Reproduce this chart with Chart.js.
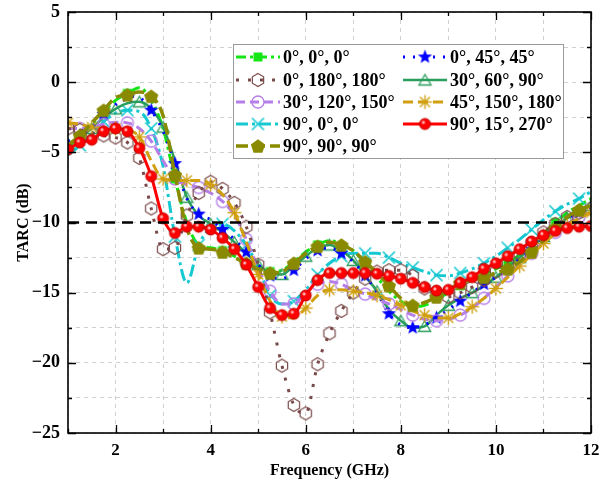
<!DOCTYPE html>
<html><head><meta charset="utf-8">
<script src="https://cdn.jsdelivr.net/npm/chart.js@4/dist/chart.umd.min.js"></script>
<style>html,body{margin:0;padding:0;background:#fff;}canvas{display:block;}</style>
</head><body>
<canvas id="c" width="600" height="484"></canvas>
<script>
// ---------- data ----------
const freq = [1,1.25,1.5,1.75,2,2.25,2.5,2.75,3,3.25,3.5,3.75,4,4.25,4.5,4.75,5,5.25,5.5,5.75,6,6.25,6.5,6.75,7,7.25,7.5,7.75,8,8.25,8.5,8.75,9,9.25,9.5,9.75,10,10.25,10.5,10.75,11,11.25,11.5,11.75,12];
const s_0_0_0     = [-4.6,-3.9,-3.0,-2.1,-1.3,-0.8,-0.4,-1.3,-3.3,-6.9,-10.0,-11.6,-11.8,-12.0,-12.4,-12.8,-13.2,-13.5,-13.4,-12.8,-12.1,-11.6,-11.3,-11.5,-12.0,-12.9,-13.9,-14.9,-15.6,-16.0,-15.9,-15.5,-15.0,-14.5,-14.1,-13.7,-13.3,-12.9,-12.3,-11.6,-10.8,-10.0,-9.3,-8.8,-8.3];
const s_0_45_45   = [-4.2,-3.8,-3.2,-2.3,-1.6,-1.0,-1.1,-2.0,-3.5,-5.8,-8.3,-9.4,-9.8,-10.5,-11.2,-12.1,-13.0,-13.8,-14.0,-13.4,-12.6,-12.0,-11.8,-12.2,-12.8,-13.8,-15.0,-16.5,-17.3,-17.5,-17.3,-16.8,-16.2,-15.6,-15.0,-14.4,-13.9,-13.3,-12.6,-11.9,-11.1,-10.4,-9.8,-9.3,-8.9];
const s_0_180_180 = [-3.3,-3.4,-3.6,-3.8,-3.95,-4.3,-5.4,-9.0,-11.9,-11.8,-9.5,-7.9,-7.1,-7.6,-8.6,-10.3,-13.0,-16.4,-20.2,-23.0,-23.6,-20.1,-17.9,-16.3,-15.0,-14.0,-13.5,-13.4,-13.4,-13.8,-14.7,-15.1,-15.3,-15.0,-14.6,-14.1,-13.5,-12.9,-12.2,-11.5,-10.7,-10.1,-9.6,-9.3,-9.0];
const s_30_60_90  = [-4.4,-3.9,-3.3,-2.5,-1.9,-1.5,-1.4,-1.9,-3.2,-5.6,-8.2,-9.5,-10.1,-10.7,-11.4,-12.2,-13.0,-13.6,-13.7,-13.1,-12.4,-11.8,-11.6,-12.0,-12.7,-13.8,-14.9,-16.2,-17.0,-17.5,-17.4,-16.6,-15.9,-15.4,-15.0,-14.5,-13.9,-13.2,-12.5,-11.8,-11.0,-10.3,-9.7,-9.2,-8.8];
const s_30_120_150= [-3.3,-3.3,-3.2,-3.0,-2.85,-2.9,-3.3,-4.2,-5.6,-6.9,-7.3,-7.5,-7.9,-8.5,-9.5,-11.2,-13.3,-14.9,-15.8,-15.8,-15.0,-14.4,-14.2,-14.4,-14.8,-15.1,-15.5,-15.8,-16.2,-16.6,-16.9,-17.0,-16.9,-16.6,-16.1,-15.4,-14.6,-13.8,-13.0,-12.2,-11.4,-10.7,-10.1,-9.6,-9.2];
const s_45_150_180= [-2.9,-3.0,-3.2,-3.3,-3.3,-3.4,-3.9,-5.6,-6.9,-7.0,-7.0,-7.0,-7.3,-8.0,-9.3,-11.4,-13.7,-15.6,-16.7,-16.8,-16.1,-15.2,-14.8,-14.8,-14.9,-15.0,-15.2,-15.5,-15.9,-16.3,-16.6,-16.8,-16.8,-16.5,-16.0,-15.4,-14.7,-13.9,-13.1,-12.3,-11.5,-10.8,-10.2,-9.7,-9.3];
const s_90_0_0    = [-5.2,-4.5,-3.7,-2.8,-2.2,-2.0,-2.1,-3.3,-6.0,-11.0,-14.3,-11.6,-10.4,-10.1,-10.6,-11.6,-13.2,-15.2,-15.8,-15.6,-14.8,-13.7,-12.9,-12.4,-12.2,-12.2,-12.2,-12.5,-12.9,-13.2,-13.5,-13.75,-13.8,-13.6,-13.3,-12.9,-12.4,-11.8,-11.2,-10.5,-9.8,-9.2,-8.7,-8.3,-7.8];
const s_90_15_270 = [-4.8,-4.3,-4.1,-3.5,-3.3,-3.5,-4.7,-6.7,-9.7,-10.75,-10.3,-10.3,-10.5,-11.1,-11.9,-13.0,-14.6,-16.1,-16.6,-16.5,-15.2,-14.1,-13.6,-13.6,-13.6,-13.6,-13.65,-13.8,-14.0,-14.3,-14.6,-14.85,-14.8,-14.3,-13.9,-13.3,-12.9,-12.4,-11.9,-11.35,-10.9,-10.6,-10.4,-10.3,-10.25];
const s_90_90_90  = [-4.5,-3.8,-2.9,-2.0,-1.1,-0.9,-0.7,-1.0,-2.4,-6.6,-10.4,-11.8,-11.9,-12.1,-12.5,-12.9,-13.3,-13.6,-13.5,-12.9,-12.2,-11.7,-11.4,-11.6,-12.0,-12.8,-13.6,-14.5,-15.4,-15.9,-15.7,-15.3,-14.8,-14.3,-14.1,-13.9,-13.6,-13.3,-12.8,-12.1,-11.3,-10.4,-9.6,-9.1,-8.8];
const seriesLabels = ['0°, 0°, 0°','0°, 45°, 45°','0°, 180°, 180°','30°, 60°, 90°','30°, 120°, 150°','45°, 150°, 180°','90°, 0°, 0°','90°, 15°, 270°','90°, 90°, 90°'];
const xTickLabels = [2,4,6,8,10,12];
const yTickLabels = [5,0,-5,-10,-15,-20,-25];
const refLevel = -10;

// ---------- markers ----------
function mk(r, draw){ const s=Math.ceil(r*2+4); const c=document.createElement('canvas'); c.width=s; c.height=s; const g=c.getContext('2d'); g.translate(s/2,s/2); draw(g); return c; }
function poly(g,n,r,rot){ g.beginPath(); for(let i=0;i<n;i++){ const a=rot+i*2*Math.PI/n; const px=r*Math.cos(a), py=r*Math.sin(a); if(i) g.lineTo(px,py); else g.moveTo(px,py);} g.closePath(); }
const COL = {green:'#14e614', blue:'#0000ff', brown:'#7a4a4a', teal:'#2a9d5c', purple:'#b57ee8', gold:'#d0a010', cyan:'#16c8d0', red:'#ff0000', olive:'#8a8a00'};
const mSquare = mk(5, g=>{ g.fillStyle=COL.green; g.fillRect(-4.5,-4.5,9,9); });
const mStar = mk(7.5, g=>{ g.beginPath(); for(let i=0;i<10;i++){ const r=i%2?3.2:7.5; const a=-Math.PI/2+i*Math.PI/5; const px=r*Math.cos(a), py=r*Math.sin(a); if(i) g.lineTo(px,py); else g.moveTo(px,py);} g.closePath(); g.fillStyle=COL.blue; g.fill(); });
const mHex = mk(7, g=>{ poly(g,6,6.5,-Math.PI/2); g.strokeStyle=COL.brown; g.lineWidth=1.2; g.stroke(); });
const mTri = mk(7.5, g=>{ g.translate(0,1.5); poly(g,3,7,-Math.PI/2); g.strokeStyle=COL.teal; g.lineWidth=1.3; g.stroke(); });
const mCirc = mk(7, g=>{ g.beginPath(); g.arc(0,0,6,0,Math.PI*2); g.strokeStyle=COL.purple; g.lineWidth=1.3; g.stroke(); });
const mAst = mk(7.5, g=>{ g.strokeStyle=COL.gold; g.lineWidth=1.4; for(let k=0;k<4;k++){ const a=k*Math.PI/4; g.beginPath(); g.moveTo(-7*Math.cos(a),-7*Math.sin(a)); g.lineTo(7*Math.cos(a),7*Math.sin(a)); g.stroke(); } });
const mX = mk(7.5, g=>{ g.strokeStyle=COL.cyan; g.lineWidth=1.6; g.beginPath(); g.moveTo(-6,-6); g.lineTo(6,6); g.moveTo(6,-6); g.lineTo(-6,6); g.stroke(); });
const mRed = mk(6.5, g=>{ g.beginPath(); g.arc(0,0,5.5,0,Math.PI*2); g.fillStyle=COL.red; g.fill(); g.strokeStyle='#c00000'; g.lineWidth=1; g.stroke(); g.beginPath(); g.arc(-1.6,-1.6,1.6,0,Math.PI*2); g.fillStyle='rgba(255,220,220,0.8)'; g.fill(); });
const mPent = mk(8, g=>{ g.translate(0,0.8); poly(g,5,7.5,-Math.PI/2); g.fillStyle=COL.olive; g.fill(); });

function ds(label, vals, color, dash, width, marker, every, offset, order){
  return { label, data: freq.map((f,i)=>({x:f, y:vals[i]})), borderColor:color, backgroundColor:color,
    borderDash:dash, borderWidth:width, pointStyle:marker,
    pointRadius: c => (c.dataIndex % every === offset ? 5 : 0), pointHoverRadius:0,
    cubicInterpolationMode:'monotone', fill:false, order, _marker:marker };
}
const datasets = [
  ds(seriesLabels[0], s_0_0_0, COL.green, [10,4,3,4], 3, mSquare, 4, 1, 8),
  ds(seriesLabels[1], s_0_45_45, COL.blue, [2,8], 3, mStar, 2, 1, 5),
  ds(seriesLabels[2], s_0_180_180, COL.brown, [3,9], 3, mHex, 1, 0, 3),
  ds(seriesLabels[3], s_30_60_90, COL.teal, [], 2.5, mTri, 2, 0, 6),
  ds(seriesLabels[4], s_30_120_150, COL.purple, [9,5], 3, mCirc, 2, 1, 4),
  ds(seriesLabels[5], s_45_150_180, COL.gold, [10,5], 3, mAst, 2, 0, 2),
  ds(seriesLabels[6], s_90_0_0, COL.cyan, [12,4,3,4], 3, mX, 2, 1, 7),
  ds(seriesLabels[7], s_90_15_270, COL.red, [], 3, mRed, 1, 0, 0),
  ds(seriesLabels[8], s_90_90_90, COL.olive, [12,5], 3.5, mPent, 2, 1, 1)
];
datasets.push({ label:'ref', data:[{x:freq[0],y:refLevel},{x:freq[freq.length-1],y:refLevel}], borderColor:'#000', borderDash:[11,7], borderWidth:2.5, pointRadius:0, order:-1, fill:false });

const FONT = '"Liberation Serif", "Times New Roman", serif';

const deco = {
  id:'deco',
  afterDraw(chart){
    const ctx=chart.ctx, a=chart.chartArea, xs=chart.scales.x, ys=chart.scales.y;
    ctx.save();
    ctx.strokeStyle='#000'; ctx.lineWidth=1.3;
    for(let v=1; v<=12; v++){
      const px=Math.round(xs.getPixelForValue(v))+0.5; const L = xTickLabels.includes(v)?8:4;
      ctx.beginPath(); ctx.moveTo(px,a.bottom); ctx.lineTo(px,a.bottom-L); ctx.moveTo(px,a.top); ctx.lineTo(px,a.top+L); ctx.stroke();
    }
    for(let v=-25; v<=5; v+=2.5){
      const py=Math.round(ys.getPixelForValue(v))+0.5; const L = yTickLabels.includes(v)?8:4;
      ctx.beginPath(); ctx.moveTo(a.left,py); ctx.lineTo(a.left+L,py); ctx.moveTo(a.right,py); ctx.lineTo(a.right-L,py); ctx.stroke();
    }
    ctx.lineWidth=1.6;
    ctx.strokeRect(a.left, a.top, a.right-a.left, a.bottom-a.top);
    // legend
    const bx=233, by=44, bw=330, bh=114;
    ctx.fillStyle='#fff'; ctx.fillRect(bx,by,bw,bh);
    ctx.strokeStyle='#9a9a9a'; ctx.lineWidth=1; ctx.strokeRect(bx+0.5,by+0.5,bw,bh);
    const rowY=[57,80,102,124,146];
    const colX=[236,403];
    ctx.font='bold 18px '+FONT; ctx.textBaseline='middle'; ctx.textAlign='left';
    for(let i=0;i<9;i++){
      const d=chart.data.datasets[i]; const r=Math.floor(i/2), c=i%2;
      const x0=colX[c], y=rowY[r];
      ctx.save(); ctx.strokeStyle=d.borderColor; ctx.lineWidth=d.borderWidth; ctx.setLineDash(d.borderDash||[]);
      ctx.beginPath(); ctx.moveTo(x0,y); ctx.lineTo(x0+44,y); ctx.stroke(); ctx.restore();
      const m=d._marker; ctx.drawImage(m, x0+22-m.width/2, y-m.height/2);
      ctx.fillStyle='#000'; ctx.fillText(d.label, x0+47, y+1);
    }
    ctx.restore();
  }
};

new Chart(document.getElementById('c'), {
  type:'line',
  data:{ datasets },
  options:{
    responsive:false, animation:false, devicePixelRatio:1,
    layout:{ padding:{ top:12, right:9, left:0, bottom:0 } },
    plugins:{ legend:{display:false}, tooltip:{enabled:false} },
    scales:{
      x:{ type:'linear', min:1, max:12,
        afterFit(s){ s.height=51; s.paddingLeft=0; s.paddingRight=0; },
        ticks:{ stepSize:1, autoSkip:false, maxRotation:0, padding:7, color:'#000', font:{family:FONT, size:17, weight:'bold'},
          callback:v=> xTickLabels.includes(v) ? String(v) : '' },
        grid:{ color:'#d0d0d0', lineWidth:1, drawTicks:false, borderDash:[4,4] },
        border:{ display:false, dash:[4,4] },
        title:{ display:true, text:'Frequency (GHz)', color:'#000', font:{family:FONT, size:16, weight:'bold'}, padding:{top:0,bottom:4} } },
      y:{ type:'linear', min:-25, max:5,
        afterFit(s){ s.width=68; s.paddingTop=0; s.paddingBottom=0; },
        ticks:{ stepSize:2.5, autoSkip:false, padding:8, color:'#000', font:{family:FONT, size:18, weight:'bold'},
          callback:v=> yTickLabels.includes(v) ? String(v).replace('-','\u2212') : '' },
        grid:{ color:'#d0d0d0', lineWidth:1, drawTicks:false, borderDash:[4,4] },
        border:{ display:false, dash:[4,4] },
        title:{ display:true, text:'TARC (dB)', color:'#000', font:{family:FONT, size:16, weight:'bold'}, padding:{top:14,bottom:0} } }
    }
  },
  plugins:[deco]
});
</script>
</body></html>
